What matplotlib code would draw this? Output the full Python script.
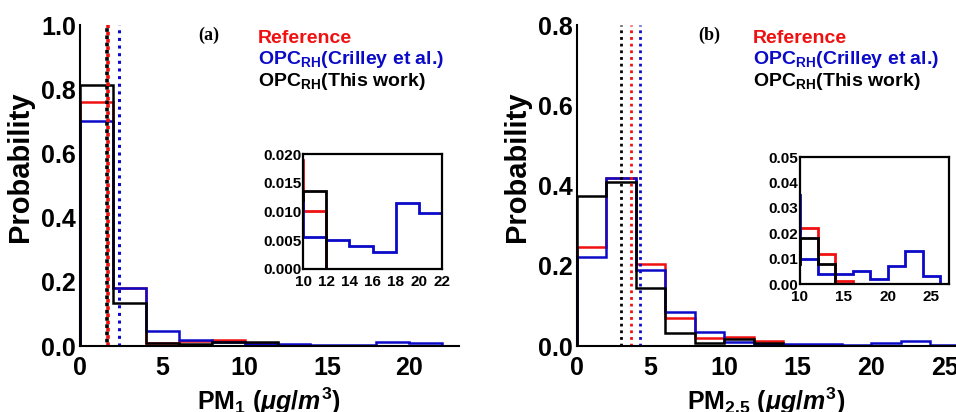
import numpy as np
import matplotlib
matplotlib.use("Agg")
import matplotlib.pyplot as plt

plt.rcParams['font.family'] = ['Liberation Sans', 'DejaVu Sans']
plt.rcParams['font.weight'] = 'bold'
plt.rcParams['axes.labelweight'] = 'bold'
plt.rcParams['mathtext.fontset'] = 'custom'
plt.rcParams['mathtext.rm'] = 'Liberation Sans:bold'
plt.rcParams['mathtext.bf'] = 'Liberation Sans:bold'
plt.rcParams['mathtext.it'] = 'Liberation Sans:italic:bold'

# ---------------- data ----------------
# Panel (a): PM1, bins of width 2
pm1_ref_edges = [0, 2, 4, 6, 8, 10, 12]
pm1_ref = [0.76, 0.18, 0.010, 0.015, 0.019, 0.010]
pm1_cri_edges = [0, 2, 4, 6, 8, 10, 12, 14, 16, 18, 20, 22]
pm1_cri = [0.70, 0.18, 0.047, 0.019, 0.012, 0.0055, 0.005, 0.004, 0.003, 0.0115, 0.0097]
pm1_this_edges = [0, 2, 4, 6, 8, 10, 12]
pm1_this = [0.815, 0.135, 0.010, 0.006, 0.012, 0.0135]
pm1_means = {'ref': 1.68, 'cri': 2.36, 'this': 1.64}

# Panel (b): PM2.5, bins of width 2
pm25_ref_edges = [0, 2, 4, 6, 8, 10, 12, 14, 16]
pm25_ref = [0.247, 0.42, 0.205, 0.070, 0.020, 0.022, 0.012, 0.001]
pm25_cri_edges = [0, 2, 4, 6, 8, 10, 12, 14, 16, 18, 20, 22, 24, 26]
pm25_cri = [0.222, 0.42, 0.19, 0.085, 0.035, 0.010, 0.004, 0.004, 0.005, 0.002, 0.007, 0.013, 0.003]
pm25_this_edges = [0, 2, 4, 6, 8, 10, 12, 14]
pm25_this = [0.374, 0.409, 0.145, 0.032, 0.008, 0.018, 0.008]
pm25_means = {'ref': 3.67, 'cri': 4.3, 'this': 3.0}

RED = '#f01010'
BLUE = '#0a0ac8'
BLACK = '#000000'

fig = plt.figure(figsize=(9.56, 4.12), dpi=100)


def draw_hists(ax, series, lw):
    for edges, vals, col in series:
        ax.stairs(vals, edges, baseline=0, fill=False, color=col, lw=lw)


def style_main(ax):
    for s in ['top', 'right']:
        ax.spines[s].set_visible(False)
    for s in ['left', 'bottom']:
        ax.spines[s].set_linewidth(1.5)
    ax.tick_params(length=0, labelsize=18)
    ax.tick_params(axis='x', pad=7)
    ax.tick_params(axis='y', pad=3)


def style_inset(ax):
    for s in ax.spines.values():
        s.set_linewidth(1.6)
    ax.tick_params(length=0, labelsize=11)
    ax.tick_params(axis='x', pad=4)
    ax.tick_params(axis='y', pad=1)


def legend_texts(x0, tag_x, tag):
    fig.text(tag_x / 956, 1 - 40 / 412, tag, family='Liberation Serif',
             fontweight='bold', fontsize=13, ha='left', va='baseline')
    fig.text(x0 / 956, 1 - 43 / 412, 'Reference', color=RED, fontsize=14,
             ha='left', va='baseline')
    fig.text(x0 / 956, 1 - 64 / 412, r'OPC$_{\mathrm{RH}}$(Crilley et al.)',
             color=BLUE, fontsize=14, ha='left', va='baseline')
    fig.text(x0 / 956, 1 - 86 / 412, r'OPC$_{\mathrm{RH}}$(This work)',
             color=BLACK, fontsize=14, ha='left', va='baseline')


# ---------- Panel (a) ----------
axa = fig.add_axes([0.0837, 0.160, 0.396, 0.779])
seriesa = [(pm1_ref_edges, pm1_ref, RED),
           (pm1_cri_edges, pm1_cri, BLUE),
           (pm1_this_edges, pm1_this, BLACK)]
draw_hists(axa, seriesa, 1.8)
axa.axvline(pm1_means['ref'], color=RED, lw=2.6, ls=(0, (1, 1)))
axa.axvline(pm1_means['this'], color=BLACK, lw=2.6, ls=(1, (1, 1)))
axa.axvline(pm1_means['cri'], color=BLUE, lw=2.2, ls=(0, (1, 1.5)))
axa.set_xlim(0, 23)
axa.set_ylim(0, 1.0)
axa.set_xticks([0, 5, 10, 15, 20])
axa.set_yticks([0, 0.2, 0.4, 0.6, 0.8, 1.0])
axa.set_yticklabels(['0.0', '0.2', '0.4', '0.6', '0.8', '1.0'])
style_main(axa)
axa.set_ylabel('Probability', fontsize=21)
axa.yaxis.set_label_coords(-0.122, 0.56)
axa.set_xlabel(r'PM$_{1}$ ($\mu g/m^{3}$)', fontsize=18, labelpad=4)

legend_texts(258, 198, '(a)')

# inset (a)
ina = fig.add_axes([303 / 956, 1 - 269 / 412, 139 / 956, 115 / 412])
draw_hists(ina, seriesa, 2.0)
ina.set_xlim(10, 22)
ina.set_ylim(0, 0.020)
ina.set_xticks([10, 12, 14, 16, 18, 20, 22])
ina.set_yticks([0, 0.005, 0.010, 0.015, 0.020])
ina.set_yticklabels(['0.000', '0.005', '0.010', '0.015', '0.020'])
style_inset(ina)

# ---------- Panel (b) ----------
axb = fig.add_axes([0.6036, 0.160, 0.3964, 0.779])
seriesb = [(pm25_ref_edges, pm25_ref, RED),
           (pm25_cri_edges, pm25_cri, BLUE),
           (pm25_this_edges, pm25_this, BLACK)]
draw_hists(axb, seriesb, 1.8)
axb.axvline(pm25_means['this'], color=BLACK, lw=2.0, ls=(0, (1, 1.4)))
axb.axvline(pm25_means['ref'], color=RED, lw=2.0, ls=(0, (1, 1.4)))
axb.axvline(pm25_means['cri'], color=BLUE, lw=2.0, ls=(0, (1, 1.4)))
axb.set_xlim(0, 25.75)
axb.set_ylim(0, 0.8)
axb.set_xticks([0, 5, 10, 15, 20, 25])
axb.set_yticks([0, 0.2, 0.4, 0.6, 0.8])
axb.set_yticklabels(['0.0', '0.2', '0.4', '0.6', '0.8'])
style_main(axb)
axb.set_ylabel('Probability', fontsize=21)
axb.yaxis.set_label_coords(-0.121, 0.56)
axb.set_xlabel(r'PM$_{2.5}$ ($\mu g/m^{3}$)', fontsize=18, labelpad=4)

legend_texts(753, 698, '(b)')

inb = fig.add_axes([800 / 956, 1 - 284 / 412, 149 / 956, 127 / 412])
draw_hists(inb, seriesb, 2.0)
inb.set_xlim(10, 27)
inb.set_ylim(0, 0.05)
inb.set_xticks([10, 15, 20, 25])
inb.set_yticks([0, 0.01, 0.02, 0.03, 0.04, 0.05])
inb.set_yticklabels(['0.00', '0.01', '0.02', '0.03', '0.04', '0.05'])
style_inset(inb)

fig.savefig('out.png', dpi=100)
